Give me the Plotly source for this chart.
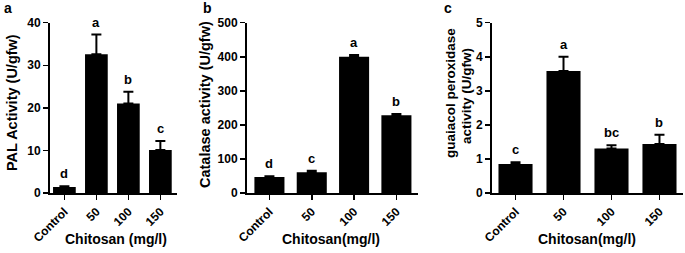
import plotly.graph_objects as go

categories = ["Control", "50", "100", "150"]

pal_values = [1.4, 32.6, 21.0, 10.1]
pal_errors = [0.2, 4.6, 2.8, 2.1]
pal_letters = ["d", "a", "b", "c"]

cat_values = [47, 61, 400, 228]
cat_errors = [2, 4, 5, 4]
cat_letters = ["d", "c", "a", "b"]

gpx_values = [0.85, 3.58, 1.31, 1.44]
gpx_errors = [0.05, 0.42, 0.09, 0.27]
gpx_letters = ["c", "a", "bc", "b"]

W, H = 685, 253
FONT = "Liberation Sans, Arial, sans-serif"

panels = [
    dict(vals=pal_values, errs=pal_errors, letters=pal_letters,
         xpx=(50, 177), xr=[-0.45, 3.52], yr=[0, 40], dtick=10,
         ytitles=[("PAL Activity (U/gfw)", 12, 103, 14.5)],
         xtitle="Chitosan (mg/l)", xtx=116, label="a", lx=8),
    dict(vals=cat_values, errs=cat_errors, letters=cat_letters,
         xpx=(247, 418), xr=[-0.53, 3.51], yr=[0, 500], dtick=100,
         ytitles=[("Catalase activity (U/gfw)", 205, 105, 14.5)],
         xtitle="Chitosan(mg/l)", xtx=331, label="b", lx=207),
    dict(vals=gpx_values, errs=gpx_errors, letters=gpx_letters,
         xpx=(492, 683), xr=[-0.49, 3.49], yr=[0, 5], dtick=1,
         ytitles=[("guaiacol peroxidase", 450, 93, 13.5), ("activity (U/gfw)", 466, 96, 13.5)],
         xtitle="Chitosan(mg/l)", xtx=587, label="c", lx=448),
]

ytop, ybot = 22.7, 193.0
ydom = [1 - ybot / H, 1 - ytop / H]

fig = go.Figure()
annotations = []
layout = {}
for i, p in enumerate(panels):
    n = "" if i == 0 else str(i + 1)
    xa, ya = "x" + n, "y" + n
    fig.add_trace(go.Bar(
        x=categories, y=p["vals"], xaxis=xa, yaxis=ya, width=0.71,
        marker=dict(color="black", line=dict(width=0)),
        error_y=dict(type="data", array=p["errs"], arrayminus=[0] * 4, symmetric=False,
                     color="black", thickness=2, width=5),
        showlegend=False, hoverinfo="skip",
    ))
    layout["xaxis" + n] = dict(
        domain=[p["xpx"][0] / W, p["xpx"][1] / W], range=p["xr"], anchor=ya,
        type="category", automargin=False,
        showline=True, linecolor="black", linewidth=2, ticks="outside", ticklen=5,
        tickwidth=1.5, tickcolor="black", tickangle=-45, showgrid=False, zeroline=False,
        tickfont=dict(family=FONT, size=12, color="black", weight="bold"),
    )
    layout["yaxis" + n] = dict(
        domain=ydom, range=p["yr"], anchor=xa, dtick=p["dtick"], tick0=0, automargin=False,
        showline=True, linecolor="black", linewidth=2, ticks="outside", ticklen=5,
        tickwidth=1.5, tickcolor="black", showgrid=False, zeroline=False,
        tickfont=dict(family=FONT, size=12, color="black", weight="bold"),
    )
    for k, (v, e, L) in enumerate(zip(p["vals"], p["errs"], p["letters"])):
        annotations.append(dict(x=k, y=v + e, xref=xa, yref=ya, text="<b>%s</b>" % L,
                                showarrow=False, xanchor="center", yanchor="bottom", yshift=3,
                                font=dict(family=FONT, size=13, color="black")))
    for txt, tx, ty, fs in p["ytitles"]:
        annotations.append(dict(x=tx / W, y=1 - ty / H, xref="paper", yref="paper",
                                xanchor="center", yanchor="middle",
                                text="<b>%s</b>" % txt, textangle=-90, showarrow=False,
                                font=dict(family=FONT, size=fs, color="black")))
    annotations.append(dict(x=p["xtx"] / W, y=1 - 239 / H, xref="paper", yref="paper",
                            xanchor="center", yanchor="middle",
                            text="<b>%s</b>" % p["xtitle"], showarrow=False,
                            font=dict(family=FONT, size=14, color="black")))
    annotations.append(dict(x=p["lx"] / W, y=1 - 8 / H, xref="paper", yref="paper",
                            xanchor="center", yanchor="middle",
                            text="<b>%s</b>" % p["label"], showarrow=False,
                            font=dict(family=FONT, size=14, color="black")))

fig.update_layout(
    template="none",
    width=W, height=H, margin=dict(l=0, r=0, t=0, b=0),
    plot_bgcolor="white", paper_bgcolor="white", bargap=0.29,
    annotations=annotations, **layout,
)
fig.write_html("out.html", config={"displayModeBar": False, "staticPlot": True},
               post_script="document.body.style.margin='0';document.body.style.overflow='hidden';")
